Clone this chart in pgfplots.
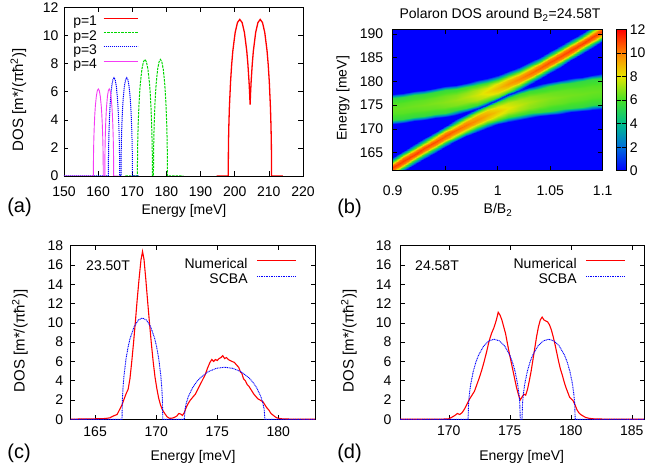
\documentclass[border=0pt]{standalone}
\usepackage{fontspec}
\setmainfont{Liberation Sans}
\usepackage{pgfplots}
\pgfplotsset{compat=1.18}
\definecolor{gpgreen}{RGB}{0,215,0}
\definecolor{gpmag}{RGB}{245,60,245}
\newcommand{\gpf}{\fontsize{14}{16.8}\selectfont}
\newcommand{\gpy}{\fontsize{15}{18}\selectfont}
\newcommand{\gpl}{\fontsize{20}{24}\selectfont}
\pgfplotsset{
  gpax/.style={scale only axis, anchor=south west,
    axis line style={line width=0.8pt},
    every tick/.style={black, line width=0.6pt},
    major tick length=4.5pt,
    tick label style={font=\gpf},
    /pgf/number format/assume math mode=true},
  colormap={gp}{rgb255(0cm)=(0,0,255); rgb255(2cm)=(0,110,220); rgb255(4cm)=(0,190,140); rgb255(6cm)=(70,225,40); rgb255(8cm)=(230,230,0); rgb255(10cm)=(255,130,0); rgb255(12cm)=(255,0,0)}
}
\begin{document}
\begin{tikzpicture}
% (a)
\begin{axis}[gpax, at={(64pt,296pt)}, width=239pt, height=168.5pt,
  xmin=150, xmax=220, ymin=0, ymax=12,
  xtick={150,160,...,220}, ytick={0,2,...,12},
  xticklabel style={yshift=-7pt}, yticklabel style={xshift=-2pt},
  legend style={draw=none, fill=none, inner sep=0pt, at={(0.038,0.951)}, anchor=north west,
    font=\gpf, row sep=1.2pt, column sep=6pt,
    nodes={inner sep=0pt, text height=10pt, text depth=3pt}},
  legend plot pos=right, legend cell align=left,
  legend image code/.code={\draw[#1] (0pt,4pt) -- (34pt,4pt);}]
\addplot[red, line width=1.3pt] coordinates {(194.7,0) (198.10,0) (198.168,2.22) (198.27,3.48) (198.439,4.86) (198.778,6.69) (199.117,7.96) (199.456,8.92) (200.134,10.22) (200.812,10.93) (201.49,11.15) (202.168,10.93) (202.846,10.22) (203.524,8.92) (203.863,7.96) (204.202,6.69) (204.372,5.87) (204.507,5.08) (204.637,5.87) (204.804,6.69) (205.137,7.96) (205.47,8.92) (206.137,10.22) (206.803,10.93) (207.47,11.15) (208.137,10.93) (208.803,10.22) (209.47,8.92) (209.803,7.96) (210.136,6.69) (210.47,4.86) (210.636,3.48) (210.736,2.22) (210.803,0) (214.1,0)};
\addlegendentry{p=1}
\addplot[gpgreen, line width=1pt, dash pattern=on 2.5pt off 1pt] coordinates {(168,0) (171.5,0) (171.544,1.65) (171.61,2.59) (171.72,3.62) (171.94,4.98) (172.16,5.93) (172.38,6.64) (172.82,7.61) (173.26,8.13) (173.7,8.3) (174.14,8.13) (174.58,7.61) (175.02,6.64) (175.24,5.93) (175.46,4.98) (175.68,3.62) (175.79,2.59) (175.856,1.65) (175.9,0) (176.2,0) (176.241,1.65) (176.303,2.59) (176.405,3.62) (176.61,4.98) (176.815,5.93) (177.02,6.64) (177.43,7.61) (177.84,8.13) (178.25,8.3) (178.66,8.13) (179.07,7.61) (179.48,6.64) (179.685,5.93) (179.89,4.98) (180.095,3.62) (180.198,2.59) (180.259,1.65) (180.3,0) (185,0)};
\addlegendentry{p=2}
\addplot[blue, line width=1pt, dash pattern=on 1.2pt off 0.8pt] coordinates {(150,0) (163.0,0) (163.033,1.39) (163.083,2.18) (163.165,3.05) (163.33,4.2) (163.495,5.0) (163.66,5.6) (163.99,6.42) (164.32,6.86) (164.65,7.0) (164.98,6.86) (165.31,6.42) (165.64,5.6) (165.805,5.0) (165.97,4.2) (166.135,3.05) (166.218,2.18) (166.267,1.39) (166.3,0) (166.7,0) (166.734,1.39) (166.784,2.18) (166.868,3.05) (167.035,4.2) (167.203,5.0) (167.37,5.6) (167.705,6.42) (168.04,6.86) (168.375,7.0) (168.71,6.86) (169.045,6.42) (169.38,5.6) (169.548,5.0) (169.715,4.2) (169.883,3.05) (169.966,2.18) (170.017,1.39) (170.05,0) (172,0)};
\addlegendentry{p=3}
\addplot[gpmag, line width=0.9pt] coordinates {(150,0) (158.6,0) (158.629,1.23) (158.673,1.93) (158.745,2.70) (158.89,3.72) (159.035,4.43) (159.18,4.96) (159.47,5.68) (159.76,6.08) (160.05,6.2) (160.34,6.08) (160.63,5.68) (160.92,4.96) (161.065,4.43) (161.21,3.72) (161.355,2.70) (161.428,1.93) (161.471,1.23) (161.5,0) (161.95,0) (161.976,1.23) (162.015,1.93) (162.08,2.70) (162.21,3.72) (162.34,4.43) (162.47,4.96) (162.73,5.68) (162.99,6.08) (163.25,6.2) (163.51,6.08) (163.77,5.68) (164.03,4.96) (164.16,4.43) (164.29,3.72) (164.42,2.70) (164.485,1.93) (164.524,1.23) (164.55,0) (166,0)};
\addlegendentry{p=4}
\end{axis}
% (b)
\begin{axis}[gpax, at={(392.7pt,301.3pt)}, width=210pt, height=141.4pt,
  xmin=0.9, xmax=1.1, ymin=161.2, ymax=191,
  xtick={0.9,0.95,...,1.11}, ytick={165,170,...,190},
  xticklabel style={yshift=-11.5pt}, yticklabel style={xshift=-6pt},
  axis on top, colormap name=gp, point meta min=0, point meta max=12,
  colorbar, colorbar style={scale only axis, width=10pt, at={(parent axis.north east)}, anchor=north west, xshift=5pt,
    ytick={0,2,...,12}, tick label style={font=\gpf}, /pgf/number format/assume math mode=true,
    axis line style={line width=0.8pt}, every tick/.style={black, line width=0.6pt}}]
\addplot[surf, shader=interp, mesh/ordering=y varies, point meta=\thisrow{v}] table {
x y v
0.90 155 0
0.90 159.768 0
0.90 160.716 6.46
0.90 161.367 10.13
0.90 161.912 11.1
0.90 162.457 10.13
0.90 163.108 6.46
0.90 164.056 0
0.90 167.54 0
0.90 171.032 0
0.90 171.846 5.44
0.90 173.096 6.17
0.90 174.188 6.4
0.90 175.28 6.17
0.90 176.53 5.44
0.90 177.344 0
0.90 198 0

0.91 155 0
0.91 161.097 0
0.91 162.046 6.45
0.91 162.702 10.09
0.91 163.251 11.06
0.91 163.80 10.09
0.91 164.456 6.45
0.91 165.405 0
0.91 168.35 0
0.91 171.301 0
0.91 172.125 5.45
0.91 173.381 6.21
0.91 174.477 6.44
0.91 175.573 6.21
0.91 176.829 5.45
0.91 177.653 0
0.91 198 0

0.92 155 0
0.92 162.412 0
0.92 163.362 6.44
0.92 164.025 10.05
0.92 164.58 11.0
0.92 165.135 10.05
0.92 165.798 6.44
0.92 166.748 0
0.92 169.17 0
0.92 171.584 0
0.92 172.42 5.46
0.92 173.678 6.25
0.92 174.776 6.5
0.92 175.874 6.25
0.92 177.132 5.46
0.92 177.968 0
0.92 198 0

0.93 155 0
0.93 163.707 0
0.93 164.659 6.42
0.93 165.331 9.98
0.93 165.894 10.93
0.93 166.457 9.98
0.93 167.129 6.42
0.93 168.081 0
0.93 169.98 0
0.93 171.885 0
0.93 172.733 5.48
0.93 173.99 6.32
0.93 175.088 6.57
0.93 176.186 6.32
0.93 177.443 5.48
0.93 178.291 0
0.93 198 0

0.94 155 0
0.94 164.973 0
0.94 165.928 6.40
0.94 166.613 9.90
0.94 167.188 10.82
0.94 167.763 9.90
0.94 168.448 6.40
0.94 169.403 0
0.94 170.81 0
0.94 172.217 0
0.94 173.078 5.50
0.94 174.33 6.40
0.94 175.422 6.68
0.94 176.514 6.40
0.94 177.766 5.50
0.94 178.627 0
0.94 198 0

0.95 155 0
0.95 166.202 0
0.95 167.161 6.37
0.95 167.864 9.78
0.95 168.455 10.68
0.95 169.046 9.78
0.95 169.749 6.37
0.95 170.708 0
0.95 171.65 0
0.95 172.585 0
0.95 173.463 5.53
0.95 174.703 6.52
0.95 175.783 6.82
0.95 176.863 6.52
0.95 178.103 5.53
0.95 178.981 0
0.95 198 0

0.96 155 0
0.96 167.373 0
0.96 168.337 6.32
0.96 169.067 9.60
0.96 169.682 10.47
0.96 170.297 9.60
0.96 171.027 6.32
0.96 171.991 0
0.96 172.50 0
0.96 173.013 0
0.96 173.909 5.58
0.96 175.126 6.70
0.96 176.184 7.03
0.96 177.242 6.70
0.96 178.459 5.58
0.96 179.355 0
0.96 198 0

0.97 155 0
0.97 168.463 0
0.97 169.433 6.26
0.97 170.203 9.35
0.97 170.853 10.17
0.97 171.503 9.35
0.97 172.273 6.26
0.97 173.243 0
0.97 173.38 0
0.97 173.518 0
0.97 174.436 5.64
0.97 175.616 6.95
0.97 176.639 7.33
0.97 177.662 6.95
0.97 178.842 5.64
0.97 179.76 0
0.97 198 0

0.98 155 0
0.98 169.441 0
0.98 170.417 6.17
0.98 171.243 9.01
0.98 171.944 9.77
0.98 172.645 9.01
0.98 173.471 6.17
0.98 174.17 1.0
0.98 174.293 0.6
0.98 174.41 1.0
0.98 175.081 5.73
0.98 176.204 7.29
0.98 177.176 7.74
0.98 178.148 7.29
0.98 179.271 5.73
0.98 180.213 0
0.98 198 0

0.99 155 0
0.99 170.275 0
0.99 171.255 6.05
0.99 172.159 8.56
0.99 172.93 9.23
0.99 173.701 8.56
0.99 174.605 6.05
0.99 175.12 1.0
0.99 175.244 0.6
0.99 175.36 1.0
0.99 175.868 5.85
0.99 176.916 7.74
0.99 177.818 8.27
0.99 178.72 7.74
0.99 179.768 5.85
0.99 180.733 0
0.99 198 0

1.00 155 0
1.00 170.953 0
1.00 171.931 5.93
1.00 172.929 8.05
1.00 173.785 8.63
1.00 174.641 8.05
1.00 175.639 5.93
1.00 176.10 1.0
1.00 176.22 0.6
1.00 176.34 1.0
1.00 176.805 5.98
1.00 177.767 8.25
1.00 178.591 8.87
1.00 179.415 8.25
1.00 180.377 5.98
1.00 181.359 0
1.00 198 0

1.01 155 0
1.01 171.492 0
1.01 172.463 5.80
1.01 173.559 7.56
1.01 174.504 8.05
1.01 175.449 7.56
1.01 176.545 5.80
1.01 177.08 1.0
1.01 177.198 0.6
1.01 177.32 1.0
1.01 177.869 6.10
1.01 178.749 8.74
1.01 179.498 9.45
1.01 180.247 8.74
1.01 181.127 6.10
1.01 182.116 0
1.01 198 0

1.02 155 0
1.02 171.932 0
1.02 172.894 5.69
1.02 174.077 7.15
1.02 175.102 7.56
1.02 176.127 7.15
1.02 177.31 5.69
1.02 178.035 1.0
1.02 178.155 0.6
1.02 178.275 1.0
1.02 179.026 6.21
1.02 179.839 9.15
1.02 180.528 9.94
1.02 181.217 9.15
1.02 182.03 6.21
1.02 183.018 0
1.02 198 0

1.03 155 0
1.03 172.306 0
1.03 173.26 5.62
1.03 174.514 6.84
1.03 175.604 7.20
1.03 176.694 6.84
1.03 177.948 5.62
1.03 178.902 0
1.03 179.08 0
1.03 179.262 0
1.03 180.245 6.28
1.03 181.009 9.46
1.03 181.654 10.3
1.03 182.299 9.46
1.03 183.063 6.28
1.03 184.046 0
1.03 198 0

1.04 155 0
1.04 172.638 0
1.04 173.586 5.56
1.04 174.897 6.62
1.04 176.037 6.94
1.04 177.177 6.62
1.04 178.488 5.56
1.04 179.436 0
1.04 179.98 0
1.04 180.529 0
1.04 181.506 6.34
1.04 182.235 9.68
1.04 182.849 10.56
1.04 183.463 9.68
1.04 184.192 6.34
1.04 185.169 0
1.04 198 0

1.05 155 0
1.05 172.939 0
1.05 173.886 5.52
1.05 175.239 6.47
1.05 176.419 6.76
1.05 177.599 6.47
1.05 178.952 5.52
1.05 179.899 0
1.05 180.86 0
1.05 181.822 0
1.05 182.794 6.38
1.05 183.50 9.83
1.05 184.093 10.74
1.05 184.686 9.83
1.05 185.392 6.38
1.05 186.364 0
1.05 198 0

1.06 155 0
1.06 173.222 0
1.06 174.169 5.49
1.06 175.557 6.37
1.06 176.768 6.63
1.06 177.979 6.37
1.06 179.367 5.49
1.06 180.314 0
1.06 181.73 0
1.06 183.138 0
1.06 184.105 6.41
1.06 184.795 9.93
1.06 185.372 10.87
1.06 185.949 9.93
1.06 186.639 6.41
1.06 187.606 0
1.06 198 0

1.07 155 0
1.07 173.491 0
1.07 174.44 5.47
1.07 175.856 6.29
1.07 177.093 6.54
1.07 178.33 6.29
1.07 179.746 5.47
1.07 180.695 0
1.07 182.58 0
1.07 184.467 0
1.07 185.431 6.43
1.07 186.108 10.01
1.07 186.675 10.96
1.07 187.242 10.01
1.07 187.919 6.43
1.07 188.883 0
1.07 198 0

1.08 155 0
1.08 173.75 0
1.08 174.702 5.46
1.08 176.143 6.23
1.08 177.401 6.48
1.08 178.659 6.23
1.08 180.10 5.46
1.08 181.052 0
1.08 183.43 0
1.08 185.806 0
1.08 186.767 6.44
1.08 187.436 10.07
1.08 187.995 11.02
1.08 188.554 10.07
1.08 189.223 6.44
1.08 190.184 0
1.08 198 0

1.09 155 0
1.09 173.998 0
1.09 174.955 5.45
1.09 176.417 6.19
1.09 177.694 6.43
1.09 178.971 6.19
1.09 180.433 5.45
1.09 181.39 0
1.09 184.27 0
1.09 187.154 0
1.09 188.113 6.45
1.09 188.775 10.11
1.09 189.328 11.07
1.09 189.881 10.11
1.09 190.543 6.45
1.09 191.502 0
1.09 198 0

1.10 155 0
1.10 174.242 0
1.10 175.204 5.44
1.10 176.685 6.16
1.10 177.979 6.39
1.10 179.273 6.16
1.10 180.754 5.44
1.10 181.716 0
1.10 185.11 0
1.10 188.508 0
1.10 189.465 6.46
1.10 190.122 10.14
1.10 190.671 11.11
1.10 191.22 10.14
1.10 191.877 6.46
1.10 192.834 0
1.10 198 0
};
\end{axis}
% (c)
\begin{axis}[gpax, at={(70.7pt,52.7pt)}, width=244.3pt, height=173.6pt,
  xmin=163, xmax=183, ymin=0, ymax=18,
  xtick={165,170,...,180}, ytick={0,2,...,18},
  xticklabel style={yshift=-4pt}, yticklabel style={xshift=-4pt},
  legend style={draw=none, fill=none, inner sep=0pt, at={(0.926,0.928)}, anchor=north east,
    font=\gpf, row sep=2.4pt, column sep=9pt,
    nodes={inner sep=0pt, text height=10pt, text depth=3pt}},
  legend plot pos=right, legend cell align=right,
  legend image code/.code={\draw[#1] (0pt,4pt) -- (39pt,4pt);}]
\addplot[red, line width=1.1pt] coordinates {(163,0.02) (164,0.03) (165,0.05) (165.8,0.08) (166.2,0.15) (166.5,0.35) (166.8,0.5) (167.0,1.0) (167.2,1.5) (167.4,2.2) (167.55,2.7) (167.7,3.1) (167.85,4.2) (168.0,6.0) (168.15,8.0) (168.3,10.2) (168.45,12.5) (168.6,14.6) (168.75,16.5) (168.88,17.4) (169.0,16.6) (169.15,14.5) (169.3,12.2) (169.45,10.0) (169.6,7.9) (169.75,6.0) (169.9,4.4) (170.05,3.2) (170.2,2.2) (170.35,1.5) (170.5,1.0) (170.7,0.6) (170.9,0.25) (171.1,0.1) (171.3,0.12) (171.5,0.2) (171.7,0.35) (171.85,0.6) (172.0,0.55) (172.15,0.4) (172.3,0.7) (172.45,1.2) (172.6,1.6) (172.8,2.0) (173.0,2.3) (173.2,2.6) (173.4,3.1) (173.6,3.6) (173.8,4.1) (174.0,4.6) (174.2,5.3) (174.4,5.9) (174.55,6.2) (174.7,6.0) (174.85,6.2) (175.0,6.1) (175.15,6.3) (175.3,6.4) (175.45,6.6) (175.6,6.3) (175.75,6.4) (175.9,6.2) (176.05,6.1) (176.2,6.0) (176.4,5.9) (176.6,5.6) (176.75,5.4) (176.9,4.9) (177.0,4.8) (177.15,4.2) (177.3,4.0) (177.45,3.6) (177.6,3.4) (177.8,3.0) (178.0,2.6) (178.2,2.3) (178.35,2.1) (178.5,2.0) (178.75,1.8) (178.9,1.5) (179.05,1.2) (179.2,1.0) (179.4,0.6) (179.6,0.4) (179.8,0.2) (180.0,0.1) (180.3,0.05) (181,0.02) (183,0.0)};
\addlegendentry{Numerical}
\addplot[blue, line width=0.9pt, dash pattern=on 1pt off 0.7pt] coordinates {(163,0) (167.20,0) (167.233,2.09) (167.283,3.28) (167.367,4.58) (167.534,6.30) (167.701,7.50) (167.868,8.40) (168.202,9.62) (168.536,10.29) (168.87,10.5) (169.204,10.29) (169.538,9.62) (169.872,8.40) (170.039,7.50) (170.206,6.30) (170.373,4.58) (170.457,3.28) (170.507,2.09) (170.54,0) (172.30,0) (172.366,1.07) (172.465,1.68) (172.63,2.35) (172.96,3.24) (173.29,3.86) (173.62,4.32) (174.28,4.95) (174.94,5.29) (175.6,5.4) (176.26,5.29) (176.92,4.95) (177.58,4.32) (177.91,3.86) (178.24,3.24) (178.57,2.35) (178.735,1.68) (178.834,1.07) (178.90,0) (183,0)};
\addlegendentry{SCBA}
\end{axis}
% (d)
\begin{axis}[gpax, at={(400pt,52.7pt)}, width=244pt, height=173.6pt,
  xmin=166, xmax=186, ymin=0, ymax=18,
  xtick={170,175,...,185}, ytick={0,2,...,18},
  xticklabel style={yshift=-2.6pt}, yticklabel style={xshift=-5pt},
  legend style={draw=none, fill=none, inner sep=0pt, at={(0.926,0.928)}, anchor=north east,
    font=\gpf, row sep=2.4pt, column sep=9pt,
    nodes={inner sep=0pt, text height=10pt, text depth=3pt}},
  legend plot pos=right, legend cell align=right,
  legend image code/.code={\draw[#1] (0pt,4pt) -- (39pt,4pt);}]
\addplot[red, line width=1.1pt] coordinates {(166,0) (169.5,0.02) (170.0,0.05) (170.3,0.25) (170.5,0.4) (170.7,0.6) (170.9,0.5) (171.1,0.7) (171.3,1.1) (171.5,1.6) (171.7,2.1) (171.9,2.5) (172.1,2.9) (172.3,3.6) (172.5,4.3) (172.7,5.1) (172.9,6.0) (173.1,7.0) (173.3,8.1) (173.5,8.9) (173.7,9.5) (173.9,10.3) (174.05,11.1) (174.2,10.8) (174.35,10.3) (174.5,9.6) (174.65,8.9) (174.8,7.9) (174.95,6.9) (175.1,6.0) (175.25,5.1) (175.4,4.2) (175.55,3.3) (175.7,2.6) (175.85,2.0) (176.0,2.3) (176.15,2.6) (176.3,2.5) (176.45,3.1) (176.6,4.0) (176.75,5.0) (176.9,6.2) (177.05,7.4) (177.2,8.6) (177.35,9.6) (177.5,10.3) (177.65,10.6) (177.8,10.3) (177.95,10.2) (178.1,10.1) (178.25,9.8) (178.4,9.3) (178.55,8.6) (178.7,7.8) (178.85,6.9) (179.0,6.0) (179.15,5.2) (179.3,4.6) (179.45,3.9) (179.6,3.3) (179.75,2.8) (179.9,2.3) (180.05,2.1) (180.2,1.9) (180.35,1.5) (180.5,1.0) (180.65,0.7) (180.8,0.5) (181.0,0.35) (181.2,0.2) (181.5,0.1) (182,0.03) (186,0)};
\addlegendentry{Numerical}
\addplot[blue, line width=0.9pt, dash pattern=on 1pt off 0.7pt] coordinates {(166,0) (171.58,0) (171.623,1.65) (171.687,2.59) (171.794,3.62) (172.008,4.98) (172.222,5.93) (172.436,6.64) (172.864,7.61) (173.292,8.13) (173.72,8.3) (174.148,8.13) (174.576,7.61) (175.004,6.64) (175.218,5.93) (175.432,4.98) (175.646,3.62) (175.753,2.59) (175.817,1.65) (175.86,0) (176.00,0) (176.044,1.65) (176.109,2.59) (176.218,3.62) (176.436,4.98) (176.654,5.93) (176.872,6.64) (177.308,7.61) (177.744,8.13) (178.18,8.3) (178.616,8.13) (179.052,7.61) (179.488,6.64) (179.706,5.93) (179.924,4.98) (180.142,3.62) (180.251,2.59) (180.316,1.65) (180.36,0) (186,0)};
\addlegendentry{SCBA}
\end{axis}
% labels
\node[font=\gpf] at (184pt,261pt) {Energy [meV]};
\node[font=\gpy, rotate=90] at (18.5pt,372pt) {DOS [m*/(πħ\textsuperscript{2})]};
\node[font=\gpl] at (19.5pt,264.5pt) {(a)};
\node[font=\gpf] at (500pt,457pt) {Polaron DOS around B\textsubscript{2}=24.58T};
\node[font=\gpf] at (498pt,262pt) {B/B\textsubscript{2}};
\node[font=\gpf, rotate=90] at (343pt,373.5pt) {Energy [meV]};
\node[font=\gpl] at (349.5pt,264pt) {(b)};
\node[font=\gpy, rotate=90] at (20pt,131pt) {DOS [m*/(πħ\textsuperscript{2})]};
\node[font=\gpf] at (193pt,15.3pt) {Energy [meV]};
\node[font=\gpl] at (19pt,19pt) {(c)};
\node[font=\gpf, anchor=west] at (82.7pt,206.2pt) {23.50T};
\node[font=\gpy, rotate=90] at (349pt,131pt) {DOS [m*/(πħ\textsuperscript{2})]};
\node[font=\gpf] at (521.7pt,15pt) {Energy [meV]};
\node[font=\gpl] at (349.5pt,19pt) {(d)};
\node[font=\gpf, anchor=west] at (411.7pt,206.2pt) {24.58T};
\pgfresetboundingbox
\path[use as bounding box] (0pt,0pt) rectangle (646pt,472pt);
\end{tikzpicture}
\end{document}
